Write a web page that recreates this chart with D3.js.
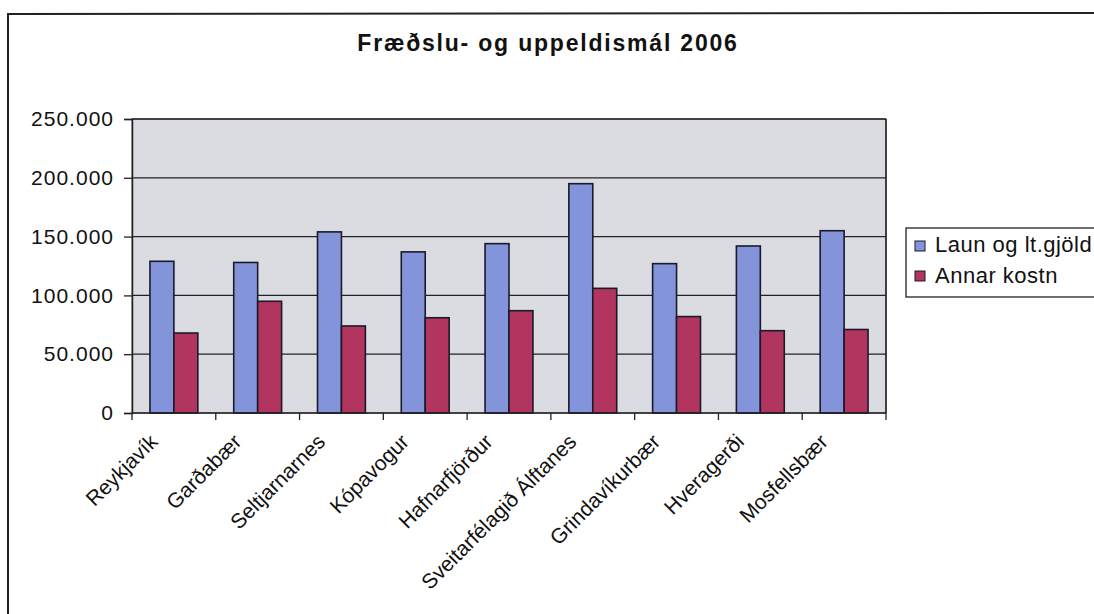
<!DOCTYPE html>
<html>
<head>
<meta charset="utf-8">
<script src="https://cdn.jsdelivr.net/npm/d3@7/dist/d3.min.js"></script>
<style>
  body { margin: 0; background: #fff; }
  text { font-family: "Liberation Sans", Arial, sans-serif; fill: #111; }
</style>
</head>
<body>
<div id="chart"></div>
<script>
// --- données ---
const categories = ["Reykjavík", "Garðabær", "Seltjarnarnes", "Kópavogur", "Hafnarfjörður",
                    "Sveitarfélagið Álftanes", "Grindavíkurbær", "Hveragerði", "Mosfellsbær"];
const launValues  = [129000, 128000, 154000, 137000, 144000, 195000, 127000, 142000, 155000];
const annarValues = [68000, 95000, 74000, 81000, 87000, 106000, 82000, 70000, 71000];
const seriesNames = ["Laun og lt.gjöld", "Annar kostn"];
const yTickValues = [0, 50000, 100000, 150000, 200000, 250000];
const titleText = "Fræðslu- og uppeldismál 2006";

const width = 1094, height = 614;
const plot = {left: 132, right: 886, top: 119, bottom: 413};
const colors = ["#8494da", "#b2355f"];

const svg = d3.select("#chart").append("svg")
    .attr("width", width)
    .attr("height", height);

// cadre extérieur (coupé par la photo)
svg.append("path")
    .attr("d", `M8,${height + 5} L8,14 L${width + 5},13`)
    .attr("fill", "none")
    .attr("stroke", "#222")
    .attr("stroke-width", 2);

// echelles
const x0 = d3.scaleBand().domain(categories).range([plot.left, plot.right]);
const x1 = d3.scaleBand().domain([0, 1]).range([0, x0.bandwidth()]).paddingOuter(0.75);
const y = d3.scaleLinear().domain([0, 250000]).range([plot.bottom, plot.top]);

const fmt = d3.formatLocale({decimal: ",", thousands: ".", grouping: [3], currency: ["", ""]}).format(",");

// fond gris
svg.append("rect")
    .attr("x", plot.left).attr("y", plot.top)
    .attr("width", plot.right - plot.left).attr("height", plot.bottom - plot.top)
    .attr("fill", "#dadce1")
    .attr("stroke", "#555")
    .attr("stroke-width", 1);

// grille
svg.append("g")
    .selectAll("line")
    .data(yTickValues.filter(d => d > 0))
    .enter().append("line")
    .attr("x1", plot.left).attr("x2", plot.right)
    .attr("y1", d => y(d)).attr("y2", d => y(d))
    .attr("stroke", "#222")
    .attr("stroke-width", 1.3);

// barres
const series = [launValues, annarValues];
series.forEach((vals, s) => {
    svg.append("g")
        .selectAll("rect")
        .data(vals)
        .enter().append("rect")
        .attr("x", (d, i) => x0(categories[i]) + x1(s))
        .attr("y", d => y(d))
        .attr("width", x1.bandwidth())
        .attr("height", d => plot.bottom - y(d))
        .attr("fill", colors[s])
        .attr("stroke", "#1a1a2a")
        .attr("stroke-width", 1.6);
});

// axe Y
const yAxis = svg.append("g")
    .attr("transform", `translate(${plot.left},0)`)
    .call(d3.axisLeft(y).tickValues(yTickValues).tickFormat(fmt).tickSize(8).tickPadding(10));
yAxis.select(".domain").attr("stroke", "#222").attr("stroke-width", 1.5);
yAxis.selectAll(".tick line").attr("stroke", "#222").attr("stroke-width", 1.3);
yAxis.selectAll("text")
    .style("font-size", "21px")
    .style("letter-spacing", "1px")
    .style("font-family", "Liberation Sans, Arial, sans-serif")
    .attr("fill", "#111");

// bord droit
svg.append("line")
    .attr("x1", plot.right).attr("x2", plot.right)
    .attr("y1", plot.top).attr("y2", plot.bottom)
    .attr("stroke", "#222").attr("stroke-width", 1.5);

// axe X: tirets entre les catégories
svg.append("line")
    .attr("x1", plot.left).attr("x2", plot.right)
    .attr("y1", plot.bottom).attr("y2", plot.bottom)
    .attr("stroke", "#222").attr("stroke-width", 1.5);
svg.append("g")
    .selectAll("line")
    .data(categories.concat(["_end"]))
    .enter().append("line")
    .attr("x1", (d, i) => plot.left + i * x0.step())
    .attr("x2", (d, i) => plot.left + i * x0.step())
    .attr("y1", plot.bottom).attr("y2", plot.bottom + 7)
    .attr("stroke", "#222").attr("stroke-width", 1.3);

// étiquettes inclinées
svg.append("g")
    .selectAll("text")
    .data(categories)
    .enter().append("text")
    .attr("transform", d => `translate(${x0(d) + x0.bandwidth() / 2 - 15},443) rotate(-45)`)
    .attr("text-anchor", "end")
    .style("font-size", "21px")
    .text(d => d);

// titre
svg.append("text")
    .attr("x", 548).attr("y", 51)
    .attr("text-anchor", "middle")
    .style("font-size", "23px")
    .style("font-weight", "bold")
    .style("letter-spacing", "1.8px")
    .text(titleText);

// légende
const legend = svg.append("g");
legend.append("rect")
    .attr("x", 906).attr("y", 228)
    .attr("width", 200).attr("height", 69)
    .attr("fill", "#fff")
    .attr("stroke", "#222").attr("stroke-width", 1.3);
seriesNames.forEach((name, i) => {
    legend.append("rect")
        .attr("x", 915).attr("y", 241 + i * 30)
        .attr("width", 10).attr("height", 10)
        .attr("fill", colors[i])
        .attr("stroke", "#1a1a2a").attr("stroke-width", 1);
    legend.append("text")
        .attr("x", 935).attr("y", 252 + i * 31)
        .style("font-size", "22px")
        .style("letter-spacing", "0.5px")
        .text(name);
});
</script>
</body>
</html>
